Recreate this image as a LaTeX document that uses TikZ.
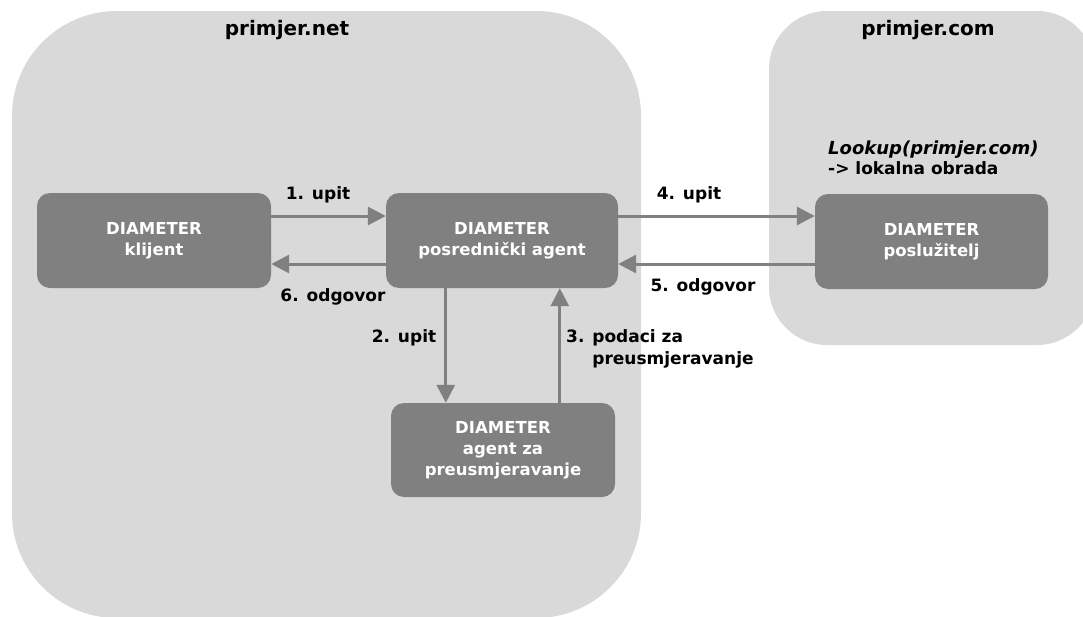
\documentclass[tikz,border=0pt]{standalone}
\usepackage{fontspec}
\setmainfont{DejaVu Sans}
\usetikzlibrary{arrows.meta}
\definecolor{zone}{HTML}{D9D9D9}
\definecolor{boxgray}{HTML}{808080}
\begin{document}
\begin{tikzpicture}[x=1pt,y=-1pt,
  agent/.style={fill=boxgray, rounded corners=13pt, text=white,
    font=\fontsize{16.5}{21}\selectfont\bfseries, align=center,
    minimum height=95pt, inner sep=0pt},
  flow/.style={draw=boxgray, line width=3pt,
    -{Triangle[length=18pt,width=18pt]}},
  lbl/.style={font=\fontsize{17}{22}\selectfont\bfseries, text=black, inner sep=0pt},
  zonetitle/.style={font=\fontsize{20}{24}\selectfont\bfseries, inner sep=0pt}]

% canvas
\fill[white] (0,0) rectangle (1083,616);
\useasboundingbox (0,0) rectangle (1083,616);

% domains
\begin{scope}
  \clip (0,0) rectangle (1083,616);
  \fill[zone, rounded corners=105pt] (12,11) rectangle (641,618);
  \fill[zone, rounded corners=58pt] (769,11) rectangle (1095,345);
\end{scope}
\node[zonetitle] (netlbl) at (287,30) {primjer.net};
\node[zonetitle] (comlbl) at (928,30) {primjer.com};

% Diameter nodes
\node[agent, minimum width=234pt] (client) at (154,240.5) {DIAMETER\\klijent};
\node[agent, minimum width=232pt] (proxy) at (502,240.5) {DIAMETER\\posrednički agent};
\node[agent, minimum width=233pt] (server) at (931.5,241.5) {DIAMETER\\poslužitelj};
\node[agent, minimum width=224pt, minimum height=94pt] (redirect) at (503,450)
  {DIAMETER\\agent za\\preusmjeravanje};

% message flows
\draw[flow] ([yshift=24.5pt]client.east) -- ([yshift=24.5pt]proxy.west);
\draw[flow] ([yshift=-23.5pt]proxy.west) -- ([yshift=-23.5pt]client.east);
\coordinate (p4) at ([yshift=24.5pt]proxy.east);
\coordinate (s5) at ([yshift=-22.5pt]server.west);
\draw[flow] (p4) -- (p4 -| server.west);
\draw[flow] (s5) -- (s5 -| proxy.east);
\coordinate (d2) at ([xshift=60pt]proxy.south west);
\coordinate (u3) at ([xshift=169pt]redirect.north west);
\draw[flow] (d2) -- (d2 |- redirect.north);
\draw[flow] (u3) -- (u3 |- proxy.south);

% labels
\node[lbl] (q1) at (318,195) {1. upit};
\node[lbl] (a6) at (333,297) {6. odgovor};
\node[lbl] (q4) at (689,195) {4. upit};
\node[lbl] (a5) at (703,287) {5. odgovor};
\node[lbl] (q2) at (404,338) {2. upit};
\node[lbl, anchor=west, align=left] (r3) at (566,349)
  {3. podaci za\\\phantom{3. }preusmjeravanje};
\node[lbl, anchor=west, align=left, font=\fontsize{17}{20}\selectfont\bfseries]
  (look) at (828,158) {{\fontsize{18}{20}\selectfont\itshape Lookup(primjer.com)}\\-> lokalna obrada};
\end{tikzpicture}
\end{document}
